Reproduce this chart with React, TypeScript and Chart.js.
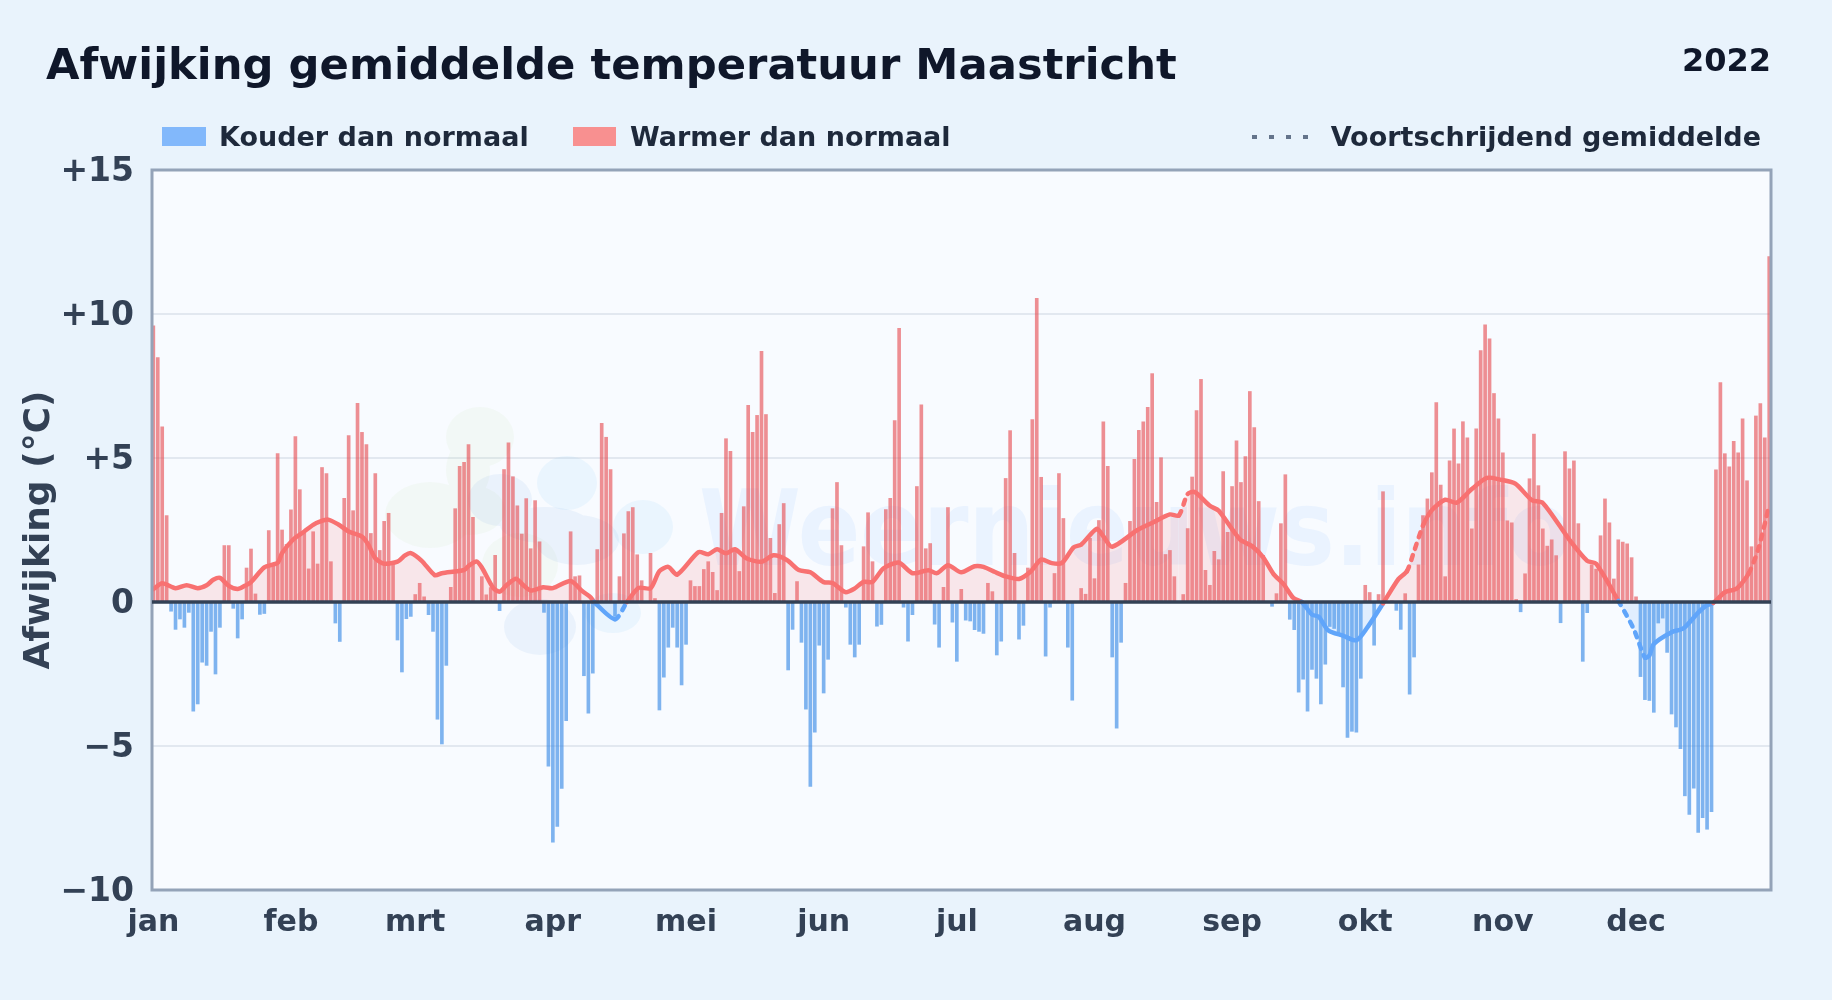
import React, { useEffect, useRef } from "react";
import { Chart, registerables } from "chart.js";

Chart.register(...registerables);

const titleText = "Afwijking gemiddelde temperatuur Maastricht";
const yearText = "2022";
const coldLabel = "Kouder dan normaal";
const warmLabel = "Warmer dan normaal";
const avgLabel = "Voortschrijdend gemiddelde";
const yAxisTitle = "Afwijking (°C)";
const watermarkText = "Weernieuws.info";

const monthLabels = ["jan", "feb", "mrt", "apr", "mei", "jun", "jul", "aug", "sep", "okt", "nov", "dec"];
const monthStarts = [0, 31, 59, 90, 120, 151, 181, 212, 243, 273, 304, 334];

const deviationJanFeb = [
  9.59, 8.49, 6.08, 3.0, -0.32, -0.95, -0.59, -0.88, -0.36, -3.79, -3.54, -2.09, -2.2, -1.02, -2.5, -0.88,
  1.96, 1.96, -0.22, -1.25, -0.59, 1.18, 1.84, 0.28, -0.43, -0.4, 2.48, 1.26, 5.15, 2.5, 2.0,
  3.2, 5.74, 3.9, 2.4, 1.15, 2.44, 1.32, 4.67, 4.46, 1.4, -0.73, -1.37, 3.6, 5.78, 3.17, 6.9, 5.89, 5.47, 2.38,
  4.46, 1.79, 2.8, 3.08, 1.35, -1.32, -2.43, -0.58, -0.5,
];
const deviationMarApr = [
  0.26, 0.65, 0.18, -0.44, -1.02, -4.07, -4.93, -2.2, 0.51, 3.24, 4.71, 4.85, 5.47, 2.94, 0, 0.88, 0.25, 0.5, 1.62,
  -0.3, 4.6, 5.53, 4.35, 3.34, 2.36, 3.59, 1.85, 3.52, 2.09, -0.36, -5.7,
  -8.34, -7.79, -6.47, -4.12, 2.44, 0.88, 0.91, -2.56, -3.86, -2.47, 1.82, 6.2, 5.72, 4.6, -0.5, 0.88, 2.37, 3.14, 3.28,
  1.64, 0.74, 0, 1.69, 0.12, -3.75, -2.61, -1.57, -0.88, -1.57, -2.88,
];
const deviationMayJun = [
  -1.47, 0.74, 0.54, 0.54, 1.13, 1.4, 1.03, 0.4, 3.08, 5.67, 5.23, 1.8, 1.06, 3.31, 6.83, 5.89, 6.48, 8.7, 6.51, 2.21,
  0.3, 2.69, 3.42, -2.36, -0.95, 0.71, -1.4, -3.72, -6.4, -4.52, -1.5,
  -3.16, -1.99, 3.24, 4.15, 1.96, -0.18, -1.47, -1.91, -1.47, 1.92, 3.1, 1.4, -0.84, -0.78, 3.21, 3.6, 6.3, 9.5, -0.18,
  -1.36, -0.44, 4.01, 6.85, 1.85, 2.03, -0.77, -1.57, 0.51, 3.28,
];
const deviationJulAug = [
  -0.7, -2.06, 0.44, -0.63, -0.66, -0.96, -1.02, -1.09, 0.65, 0.36, -1.84, -1.36, 4.29, 5.95, 1.69, -1.29, -0.81, 1.18,
  6.33, 10.54, 4.33, -1.88, -0.18, 0.99, 4.46, 2.9, -1.57, -3.41, 0, 0.47, 0.27,
  2.21, 0.81, 2.83, 6.26, 4.71, -1.91, -4.38, -1.4, 0.65, 2.8, 4.95, 5.96, 6.26, 6.76, 7.93, 3.46, 5.01, 1.65, 1.79, 0.88,
  0, 0.26, 2.55, 4.34, 6.65, 7.73, 1.1, 0.58, 1.76, 1.47,
];
const deviationSepOkt = [
  4.53, 2.42, 4.01, 5.6, 4.15, 5.05, 7.31, 6.06, 3.49, 1.62, 0, -0.15, 0.29, 2.72, 4.42, -0.6, -0.96, -3.13, -2.68, -3.79,
  -2.34, -2.65, -3.54, -2.16, -0.85, -0.92, -1.15, -2.95, -4.7, -4.49,
  -4.52, -2.65, 0.58, 0.33, -1.5, 0.26, 3.83, 0, 0.04, -0.29, -0.95, 0.29, -3.2, -1.91, 1.29, 3.0, 3.58, 4.49, 6.92, 4.06,
  0.88, 4.9, 6.01, 4.8, 6.26, 5.7, 2.54, 6.01, 8.73, 9.62, 9.14,
];
const deviationNovDec = [
  7.24, 6.36, 5.18, 2.82, 2.75, 0.09, -0.34, 0.98, 4.28, 5.83, 4.04, 2.54, 1.94, 2.16, 1.61, -0.72, 5.22, 4.62, 4.9, 2.72,
  -2.06, -0.37, 1.29, 1.14, 2.3, 3.58, 2.75, 0.8, 2.16, 2.08,
  2.02, 1.54, 0.18, -2.59, -3.39, -3.42, -3.83, -0.73, -0.56, -1.75, -3.89, -4.34, -5.09, -6.73, -7.38, -6.46, -8.0, -7.49,
  -7.89, -7.28, 4.59, 7.62, 5.15, 4.69, 5.58, 5.18, 6.36, 4.21, 1.92, 6.46, 6.89, 5.7, 11.99,
];
const deviations = [
  ...deviationJanFeb, ...deviationMarApr, ...deviationMayJun, ...deviationJulAug, ...deviationSepOkt, ...deviationNovDec,
];

const avgDays = [
  0, 2, 5, 7.5, 10, 12, 13.5, 15, 17, 19, 20.6, 22, 25, 28, 29, 31.5, 34, 36, 37.5, 39.4, 41.7, 44, 47, 48.4, 50, 52, 55, 56.7, 58,
  60.4, 63.4, 65, 70, 71, 72.8, 74, 76.6, 78, 79.6, 81.7, 83.3, 85, 87.8, 90, 94, 96.6, 98.4, 99.3, 104, 106.7, 109.3, 112, 114,
  116, 118, 122.8, 125, 127, 129, 131, 133.7, 137, 139.7, 142.7, 145.4, 148, 151, 153, 155.9, 157.8, 160, 162, 164.5, 167.9, 171,
  174.6, 176.5, 179, 182, 185, 187, 189.6, 192, 195, 197.5, 200, 202.4, 204.7, 207.3, 209, 212.5, 214, 216, 221.6, 225.3, 229, 231,
  233, 234.6, 238, 240, 244.8, 247.5, 250, 252.3, 254.6, 256.8, 258.7, 261, 262.5, 264.7, 268, 271, 273.3, 277, 280.5, 282.4, 284,
  286, 288, 291, 293.6, 297, 300.4, 303.4, 306.8, 310.5, 313, 319, 323, 325, 330, 333.4, 336, 337, 338, 342, 344.7, 348, 349.9,
  351.4, 354, 356.7, 359.4, 361.6, 364,
];
const avgValues = [
  0.45, 0.65, 0.48, 0.58, 0.48, 0.58, 0.77, 0.84, 0.56, 0.45, 0.56, 0.69, 1.2, 1.36, 1.7, 2.17, 2.45, 2.68, 2.79, 2.86, 2.69, 2.45, 2.27, 2.0, 1.52, 1.33, 1.4, 1.62, 1.7,
  1.44, 0.93, 1.0, 1.11, 1.25, 1.41, 1.2, 0.48, 0.36, 0.59, 0.81, 0.59, 0.4, 0.51, 0.48, 0.73, 0.38, 0.18, 0, -0.6, 0, 0.49, 0.48, 1.07,
  1.22, 0.95, 1.73, 1.66, 1.83, 1.69, 1.83, 1.51, 1.4, 1.62, 1.46, 1.11, 1.03, 0.69, 0.66, 0.34, 0.45, 0.7, 0.7, 1.17, 1.37, 1.0,
  1.1, 1.0, 1.28, 1.03, 1.24, 1.22, 1.04, 0.89, 0.8, 1.04, 1.47, 1.35, 1.36, 1.9, 1.99, 2.54, 2.28, 1.92, 2.49, 2.77, 3.04, 3.0,
  3.75, 3.82, 3.34, 3.17, 2.17, 1.94, 1.55, 0.98, 0.62, 0.14, 0, -0.44, -0.51, -0.99, -1.17, -1.33, -0.92, -0.05, 0.8, 1.07, 1.76,
  2.65, 3.19, 3.55, 3.45, 3.92, 4.31, 4.25, 4.11, 3.54, 3.44, 2.16, 1.43, 1.33, 0.04, -0.91, -1.93, -1.86, -1.46, -1.05, -0.91, -0.37, -0.12,
  -0.03, 0.34, 0.47, 1.0, 1.87, 3.36,
];
const dashedStretches = [[104, 107], [231, 233], [273, 274], [281, 287], [330, 336], [359, 364]];

const WARM = "#f87171";
const COLD = "#60a5fa";

const PlotDecor = {
  id: "plotDecor",
  beforeDatasetsDraw(chart: any) {
    const { ctx, chartArea: a } = chart;
    ctx.save();
    ctx.beginPath();
    ctx.rect(a.left, a.top, a.right - a.left, a.bottom - a.top);
    ctx.clip();
    const blobGroups: [string, number[][]][] = [
      ["rgba(190,225,150,0.09)", [[480, 437, 34, 30], [468, 470, 22, 30], [430, 515, 45, 33], [470, 510, 35, 25], [520, 565, 38, 32]]],
      ["rgba(130,170,225,0.11)", [[500, 500, 32, 26], [577, 540, 42, 25], [540, 627, 36, 28], [545, 525, 45, 18]]],
      ["rgba(130,200,250,0.11)", [[567, 483, 30, 27], [643, 527, 30, 27], [613, 613, 28, 20]]],
    ];
    blobGroups.forEach(([color, ellipses]) => {
      ctx.fillStyle = color;
      ctx.beginPath();
      ellipses.forEach(([x, y, rx, ry]) => {
        ctx.moveTo(x + rx, y);
        ctx.ellipse(x, y, rx, ry, 0, 0, Math.PI * 2);
      });
      ctx.fill();
    });
    ctx.translate(699, 565);
    ctx.scale(0.88, 1);
    ctx.font = "bold 105px 'DejaVu Sans'";
    ctx.textAlign = "left";
    ctx.textBaseline = "alphabetic";
    ctx.fillStyle = "rgba(96,165,250,0.09)";
    ctx.fillText(watermarkText, 0, 0);
    ctx.restore();
  },
  afterDatasetsDraw(chart: any) {
    const { ctx, chartArea: a, scales } = chart;
    const zero = scales.y.getPixelForValue(0);
    ctx.save();
    ctx.strokeStyle = "#94a3b8";
    ctx.lineWidth = 3;
    ctx.strokeRect(a.left, a.top, a.right - a.left, a.bottom - a.top);
    ctx.strokeStyle = "#334155";
    ctx.lineWidth = 3.5;
    ctx.beginPath();
    ctx.moveTo(a.left, zero);
    ctx.lineTo(a.right, zero);
    ctx.stroke();
    ctx.restore();
  },
};

const PlotBackground = {
  id: "plotBackground",
  beforeDraw(chart: any) {
    const { ctx, chartArea: a } = chart;
    ctx.save();
    ctx.fillStyle = "#f8fbff";
    ctx.fillRect(a.left, a.top, a.right - a.left, a.bottom - a.top);
    ctx.restore();
  },
};

const text: React.CSSProperties = {
  position: "absolute",
  fontFamily: "'DejaVu Sans', sans-serif",
  fontWeight: 700,
  whiteSpace: "nowrap",
  lineHeight: 1,
};

export default function App() {
  const ref = useRef<HTMLCanvasElement | null>(null);
  useEffect(() => {
    const points = deviations.map((y, x) => ({ x, y }));
    const chart = new Chart(ref.current as HTMLCanvasElement, {
      type: "bar",
      data: {
        datasets: [
          {
            type: "line",
            label: avgLabel,
            data: avgDays.map((x, i) => ({ x, y: avgValues[i] })),
            order: 0,
            borderColor: WARM,
            borderWidth: 4.5,
            pointRadius: 0,
            tension: 0.25,
            borderCapStyle: "round",
            borderJoinStyle: "round",
            fill: { target: { value: 0 }, above: "rgba(248,113,113,0.15)", below: "rgba(96,165,250,0.15)" },
            segment: {
              borderColor: (c: any) => (c.p0.parsed.y + c.p1.parsed.y < 0 ? COLD : WARM),
              borderDash: (c: any) =>
                dashedStretches.some(([a, b]) => c.p0.parsed.x >= a && c.p1.parsed.x <= b) ? [5, 7] : undefined,
            },
          } as any,
          {
            label: coldLabel,
            data: points.filter((p) => p.y < 0),
            order: 1,
            backgroundColor: "rgba(60,140,230,0.65)",
            barThickness: 3,
            grouped: false,
          } as any,
          {
            label: warmLabel,
            data: points.filter((p) => p.y > 0),
            order: 1,
            backgroundColor: "rgba(230,70,75,0.6)",
            barThickness: 3,
            grouped: false,
          } as any,
        ],
      },
      options: {
        responsive: false,
        animation: false,
        devicePixelRatio: 1,
        layout: { padding: { top: 170, right: 61, bottom: 0, left: 0 } },
        plugins: { legend: { display: false }, tooltip: { enabled: false }, title: { display: false } },
        scales: {
          x: {
            type: "linear",
            min: -0.3,
            max: 364.4,
            offset: false,
            grid: { display: false, offset: false },
            border: { display: false },
            afterBuildTicks: (s: any) => {
              s.ticks = monthStarts.map((value) => ({ value }));
            },
            afterFit: (s: any) => {
              s.height = 110;
            },
            ticks: {
              autoSkip: false,
              maxRotation: 0,
              padding: 7,
              color: "#334155",
              font: { family: "'DejaVu Sans'", weight: "bold", size: 30 },
              callback: (v: any) => monthLabels[monthStarts.indexOf(v)] ?? "",
            },
          },
          y: {
            min: -10,
            max: 15,
            grid: { color: "#e2e8f0", lineWidth: 2, drawTicks: false },
            border: { display: false },
            afterFit: (s: any) => {
              s.width = 152;
            },
            title: {
              display: true,
              text: yAxisTitle,
              color: "#334155",
              font: { family: "'DejaVu Sans'", weight: "bold", size: 36 },
              padding: { top: 18, bottom: 0 },
            },
            ticks: {
              stepSize: 5,
              padding: 18,
              labelOffset: 2,
              color: "#334155",
              font: { family: "'DejaVu Sans'", weight: "bold", size: 33 },
              callback: (v: any) => (v > 0 ? "+" + v : v < 0 ? "\u2212" + Math.abs(v) : "0"),
            },
          },
        },
      },
      plugins: [PlotBackground, PlotDecor],
    } as any);
    return () => chart.destroy();
  }, []);

  return (
    <div style={{ position: "fixed", left: 0, top: 0, width: 1832, height: 1000, background: "#e9f3fc", overflow: "hidden" }}>
      <canvas ref={ref} width={1832} height={1000} style={{ position: "absolute", left: 0, top: 0, display: "block" }} />
      <div style={{ ...text, left: 46, top: 43, fontSize: 43.3, color: "#0f172a" }}>{titleText}</div>
      <div style={{ ...text, right: 61, top: 44, fontSize: 32, color: "#0f172a" }}>{yearText}</div>
      <div style={{ position: "absolute", left: 162, top: 127, width: 44, height: 19, background: "#82b8fb" }} />
      <div style={{ ...text, left: 219, top: 123, fontSize: 27, color: "#1e293b" }}>{coldLabel}</div>
      <div style={{ position: "absolute", left: 573, top: 127, width: 43, height: 19, background: "#f89090" }} />
      <div style={{ ...text, left: 630, top: 123, fontSize: 27, color: "#1e293b" }}>{warmLabel}</div>
      {[0, 1, 2, 3].map((i) => (
        <div key={i} style={{ position: "absolute", left: 1252 + i * 17, top: 135, width: 5, height: 4, background: "#64748b" }} />
      ))}
      <div style={{ ...text, right: 71, top: 123, fontSize: 27, color: "#1e293b" }}>{avgLabel}</div>
    </div>
  );
}
